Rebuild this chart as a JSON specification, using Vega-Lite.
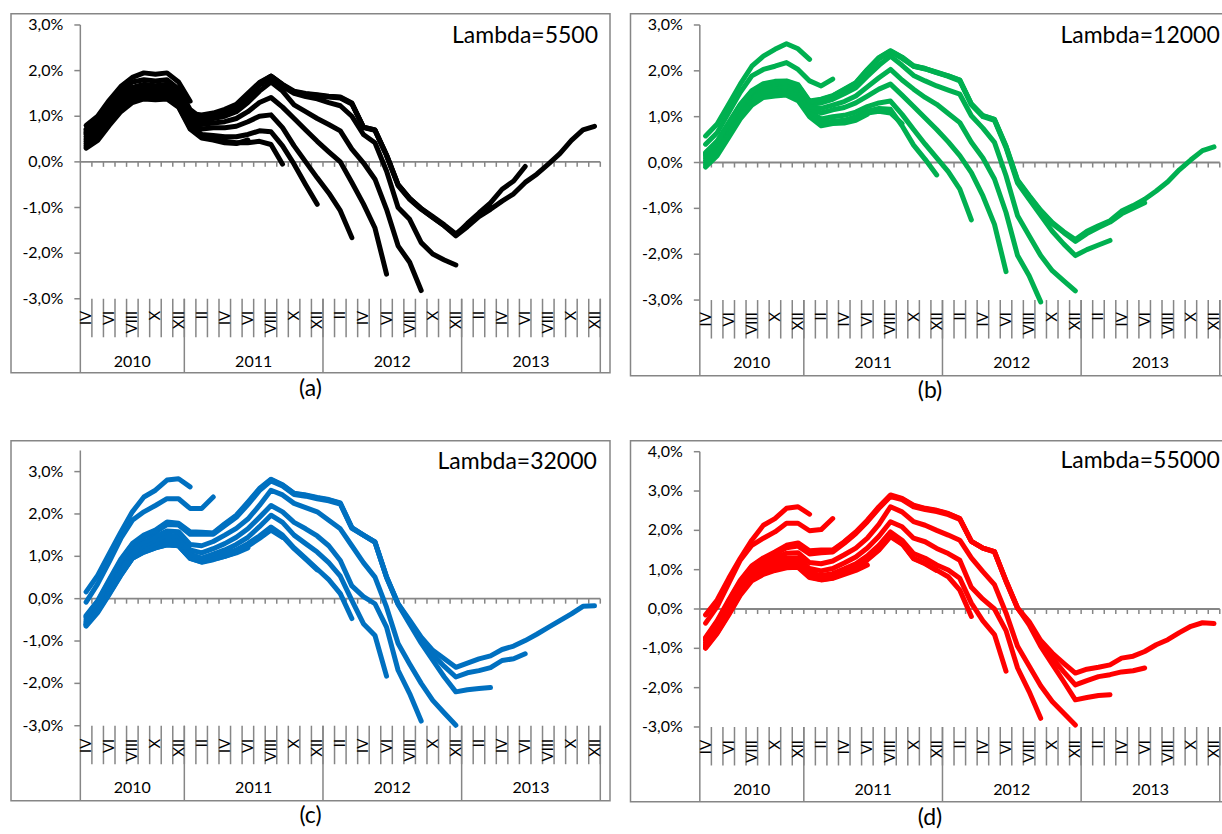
{
  "$schema": "https://vega.github.io/schema/vega-lite/v6.json",
  "padding": {"left": 10, "top": 12.7, "right": 0, "bottom": 0},
  "config": {
    "view": {"stroke": "#868686", "strokeWidth": 1.5},
    "font": "Lato",
    "text": {"font": "Lato", "color": "#000000"}
  },
  "datasets": {
    "yt": [
      {"t":-3,"lab":"-3,0%"},{"t":-2,"lab":"-2,0%"},{"t":-1,"lab":"-1,0%"},{"t":0,"lab":"0,0%"},{"t":1,"lab":"1,0%"},{"t":2,"lab":"2,0%"},{"t":3,"lab":"3,0%"},{"t":4,"lab":"4,0%"}
    ],
    "months": [
      {"m":0,"r":"IV"},{"m":1,"r":"V"},{"m":2,"r":"VI"},{"m":3,"r":"VII"},{"m":4,"r":"VIII"},{"m":5,"r":"IX"},{"m":6,"r":"X"},{"m":7,"r":"XI"},{"m":8,"r":"XII"},
      {"m":9,"r":"I"},{"m":10,"r":"II"},{"m":11,"r":"III"},{"m":12,"r":"IV"},{"m":13,"r":"V"},{"m":14,"r":"VI"},{"m":15,"r":"VII"},{"m":16,"r":"VIII"},{"m":17,"r":"IX"},{"m":18,"r":"X"},{"m":19,"r":"XI"},{"m":20,"r":"XII"},
      {"m":21,"r":"I"},{"m":22,"r":"II"},{"m":23,"r":"III"},{"m":24,"r":"IV"},{"m":25,"r":"V"},{"m":26,"r":"VI"},{"m":27,"r":"VII"},{"m":28,"r":"VIII"},{"m":29,"r":"IX"},{"m":30,"r":"X"},{"m":31,"r":"XI"},{"m":32,"r":"XII"},
      {"m":33,"r":"I"},{"m":34,"r":"II"},{"m":35,"r":"III"},{"m":36,"r":"IV"},{"m":37,"r":"V"},{"m":38,"r":"VI"},{"m":39,"r":"VII"},{"m":40,"r":"VIII"},{"m":41,"r":"IX"},{"m":42,"r":"X"},{"m":43,"r":"XI"},{"m":44,"r":"XII"}
    ],
    "years": [
      {"yr":"2010","s":0,"e":8},{"yr":"2011","s":9,"e":20},{"yr":"2012","s":21,"e":32},{"yr":"2013","s":33,"e":44}
    ],
    "A": [
      {"v":9,"m":0,"g":0.8},{"v":9,"m":1,"g":1},{"v":9,"m":2,"g":1.35},{"v":9,"m":3,"g":1.65},{"v":9,"m":4,"g":1.85},{"v":9,"m":5,"g":1.95},{"v":9,"m":6,"g":1.92},{"v":9,"m":7,"g":1.95},{"v":9,"m":8,"g":1.75},{"v":9,"m":9,"g":1.33},
      {"v":11,"m":0,"g":0.72},{"v":11,"m":1,"g":0.92},{"v":11,"m":2,"g":1.25},{"v":11,"m":3,"g":1.55},{"v":11,"m":4,"g":1.75},{"v":11,"m":5,"g":1.8},{"v":11,"m":6,"g":1.77},{"v":11,"m":7,"g":1.8},{"v":11,"m":8,"g":1.6},{"v":11,"m":9,"g":1.15},{"v":11,"m":10,"g":0.95},{"v":11,"m":11,"g":1},
      {"v":14,"m":0,"g":0.3},{"v":14,"m":1,"g":0.47},{"v":14,"m":2,"g":0.8},{"v":14,"m":3,"g":1.1},{"v":14,"m":4,"g":1.3},{"v":14,"m":5,"g":1.38},{"v":14,"m":6,"g":1.36},{"v":14,"m":7,"g":1.38},{"v":14,"m":8,"g":1.2},{"v":14,"m":9,"g":0.72},{"v":14,"m":10,"g":0.52},{"v":14,"m":11,"g":0.48},{"v":14,"m":12,"g":0.42},{"v":14,"m":13,"g":0.4},{"v":14,"m":14,"g":0.48},
      {"v":17,"m":0,"g":0.35},{"v":17,"m":1,"g":0.52},{"v":17,"m":2,"g":0.84},{"v":17,"m":3,"g":1.13},{"v":17,"m":4,"g":1.33},{"v":17,"m":5,"g":1.41},{"v":17,"m":6,"g":1.38},{"v":17,"m":7,"g":1.41},{"v":17,"m":8,"g":1.22},{"v":17,"m":9,"g":0.75},{"v":17,"m":10,"g":0.55},{"v":17,"m":11,"g":0.5},{"v":17,"m":12,"g":0.45},{"v":17,"m":13,"g":0.42},{"v":17,"m":14,"g":0.42},{"v":17,"m":15,"g":0.45},{"v":17,"m":16,"g":0.38},{"v":17,"m":17,"g":-0.05},
      {"v":20,"m":0,"g":0.4},{"v":20,"m":1,"g":0.57},{"v":20,"m":2,"g":0.88},{"v":20,"m":3,"g":1.18},{"v":20,"m":4,"g":1.38},{"v":20,"m":5,"g":1.46},{"v":20,"m":6,"g":1.43},{"v":20,"m":7,"g":1.46},{"v":20,"m":8,"g":1.27},{"v":20,"m":9,"g":0.8},{"v":20,"m":10,"g":0.6},{"v":20,"m":11,"g":0.58},{"v":20,"m":12,"g":0.55},{"v":20,"m":13,"g":0.55},{"v":20,"m":14,"g":0.6},{"v":20,"m":15,"g":0.68},{"v":20,"m":16,"g":0.66},{"v":20,"m":17,"g":0.35},{"v":20,"m":18,"g":-0.05},{"v":20,"m":19,"g":-0.5},{"v":20,"m":20,"g":-0.93},
      {"v":23,"m":0,"g":0.45},{"v":23,"m":1,"g":0.62},{"v":23,"m":2,"g":0.93},{"v":23,"m":3,"g":1.22},{"v":23,"m":4,"g":1.42},{"v":23,"m":5,"g":1.5},{"v":23,"m":6,"g":1.48},{"v":23,"m":7,"g":1.5},{"v":23,"m":8,"g":1.3},{"v":23,"m":9,"g":0.85},{"v":23,"m":10,"g":0.72},{"v":23,"m":11,"g":0.75},{"v":23,"m":12,"g":0.75},{"v":23,"m":13,"g":0.78},{"v":23,"m":14,"g":0.88},{"v":23,"m":15,"g":1},{"v":23,"m":16,"g":1.03},{"v":23,"m":17,"g":0.75},{"v":23,"m":18,"g":0.35},{"v":23,"m":19,"g":0},{"v":23,"m":20,"g":-0.35},{"v":23,"m":21,"g":-0.68},{"v":23,"m":22,"g":-1.07},{"v":23,"m":23,"g":-1.66},
      {"v":26,"m":0,"g":0.5},{"v":26,"m":1,"g":0.67},{"v":26,"m":2,"g":0.98},{"v":26,"m":3,"g":1.27},{"v":26,"m":4,"g":1.47},{"v":26,"m":5,"g":1.55},{"v":26,"m":6,"g":1.53},{"v":26,"m":7,"g":1.55},{"v":26,"m":8,"g":1.36},{"v":26,"m":9,"g":0.9},{"v":26,"m":10,"g":0.82},{"v":26,"m":11,"g":0.85},{"v":26,"m":12,"g":0.88},{"v":26,"m":13,"g":0.95},{"v":26,"m":14,"g":1.1},{"v":26,"m":15,"g":1.3},{"v":26,"m":16,"g":1.41},{"v":26,"m":17,"g":1.2},{"v":26,"m":18,"g":0.95},{"v":26,"m":19,"g":0.7},{"v":26,"m":20,"g":0.45},{"v":26,"m":21,"g":0.22},{"v":26,"m":22,"g":0},{"v":26,"m":23,"g":-0.45},{"v":26,"m":24,"g":-0.92},{"v":26,"m":25,"g":-1.45},{"v":26,"m":26,"g":-2.46},
      {"v":29,"m":0,"g":0.55},{"v":29,"m":1,"g":0.72},{"v":29,"m":2,"g":1.03},{"v":29,"m":3,"g":1.32},{"v":29,"m":4,"g":1.52},{"v":29,"m":5,"g":1.6},{"v":29,"m":6,"g":1.58},{"v":29,"m":7,"g":1.6},{"v":29,"m":8,"g":1.42},{"v":29,"m":9,"g":0.95},{"v":29,"m":10,"g":0.9},{"v":29,"m":11,"g":0.95},{"v":29,"m":12,"g":1},{"v":29,"m":13,"g":1.1},{"v":29,"m":14,"g":1.3},{"v":29,"m":15,"g":1.55},{"v":29,"m":16,"g":1.75},{"v":29,"m":17,"g":1.55},{"v":29,"m":18,"g":1.25},{"v":29,"m":19,"g":1.1},{"v":29,"m":20,"g":0.95},{"v":29,"m":21,"g":0.82},{"v":29,"m":22,"g":0.68},{"v":29,"m":23,"g":0.28},{"v":29,"m":24,"g":-0.02},{"v":29,"m":25,"g":-0.38},{"v":29,"m":26,"g":-1.04},{"v":29,"m":27,"g":-1.84},{"v":29,"m":28,"g":-2.2},{"v":29,"m":29,"g":-2.82},
      {"v":32,"m":0,"g":0.6},{"v":32,"m":1,"g":0.77},{"v":32,"m":2,"g":1.08},{"v":32,"m":3,"g":1.37},{"v":32,"m":4,"g":1.57},{"v":32,"m":5,"g":1.65},{"v":32,"m":6,"g":1.63},{"v":32,"m":7,"g":1.65},{"v":32,"m":8,"g":1.47},{"v":32,"m":9,"g":1},{"v":32,"m":10,"g":0.95},{"v":32,"m":11,"g":1},{"v":32,"m":12,"g":1.08},{"v":32,"m":13,"g":1.2},{"v":32,"m":14,"g":1.42},{"v":32,"m":15,"g":1.68},{"v":32,"m":16,"g":1.85},{"v":32,"m":17,"g":1.65},{"v":32,"m":18,"g":1.5},{"v":32,"m":19,"g":1.43},{"v":32,"m":20,"g":1.38},{"v":32,"m":21,"g":1.3},{"v":32,"m":22,"g":1.23},{"v":32,"m":23,"g":1},{"v":32,"m":24,"g":0.6},{"v":32,"m":25,"g":0.42},{"v":32,"m":26,"g":-0.2},{"v":32,"m":27,"g":-1},{"v":32,"m":28,"g":-1.26},{"v":32,"m":29,"g":-1.77},{"v":32,"m":30,"g":-2.02},{"v":32,"m":31,"g":-2.15},{"v":32,"m":32,"g":-2.26},
      {"v":35,"m":0,"g":0.63},{"v":35,"m":1,"g":0.8},{"v":35,"m":2,"g":1.1},{"v":35,"m":3,"g":1.4},{"v":35,"m":4,"g":1.6},{"v":35,"m":5,"g":1.67},{"v":35,"m":6,"g":1.65},{"v":35,"m":7,"g":1.67},{"v":35,"m":8,"g":1.48},{"v":35,"m":9,"g":1.02},{"v":35,"m":10,"g":0.98},{"v":35,"m":11,"g":1.03},{"v":35,"m":12,"g":1.1},{"v":35,"m":13,"g":1.22},{"v":35,"m":14,"g":1.45},{"v":35,"m":15,"g":1.7},{"v":35,"m":16,"g":1.87},{"v":35,"m":17,"g":1.68},{"v":35,"m":18,"g":1.52},{"v":35,"m":19,"g":1.48},{"v":35,"m":20,"g":1.45},{"v":35,"m":21,"g":1.42},{"v":35,"m":22,"g":1.4},{"v":35,"m":23,"g":1.27},{"v":35,"m":24,"g":0.76},{"v":35,"m":25,"g":0.7},{"v":35,"m":26,"g":0.15},{"v":35,"m":27,"g":-0.5},{"v":35,"m":28,"g":-0.8},{"v":35,"m":29,"g":-1.02},{"v":35,"m":30,"g":-1.2},{"v":35,"m":31,"g":-1.38},{"v":35,"m":32,"g":-1.58},{"v":35,"m":33,"g":-1.38},{"v":35,"m":34,"g":-1.18},{"v":35,"m":35,"g":-1},
      {"v":38,"m":0,"g":0.66},{"v":38,"m":1,"g":0.83},{"v":38,"m":2,"g":1.12},{"v":38,"m":3,"g":1.42},{"v":38,"m":4,"g":1.62},{"v":38,"m":5,"g":1.68},{"v":38,"m":6,"g":1.66},{"v":38,"m":7,"g":1.68},{"v":38,"m":8,"g":1.5},{"v":38,"m":9,"g":1.04},{"v":38,"m":10,"g":1},{"v":38,"m":11,"g":1.05},{"v":38,"m":12,"g":1.12},{"v":38,"m":13,"g":1.24},{"v":38,"m":14,"g":1.47},{"v":38,"m":15,"g":1.72},{"v":38,"m":16,"g":1.88},{"v":38,"m":17,"g":1.69},{"v":38,"m":18,"g":1.53},{"v":38,"m":19,"g":1.49},{"v":38,"m":20,"g":1.46},{"v":38,"m":21,"g":1.43},{"v":38,"m":22,"g":1.41},{"v":38,"m":23,"g":1.28},{"v":38,"m":24,"g":0.75},{"v":38,"m":25,"g":0.69},{"v":38,"m":26,"g":0.14},{"v":38,"m":27,"g":-0.52},{"v":38,"m":28,"g":-0.82},{"v":38,"m":29,"g":-1.04},{"v":38,"m":30,"g":-1.22},{"v":38,"m":31,"g":-1.4},{"v":38,"m":32,"g":-1.6},{"v":38,"m":33,"g":-1.35},{"v":38,"m":34,"g":-1.12},{"v":38,"m":35,"g":-0.9},{"v":38,"m":36,"g":-0.6},{"v":38,"m":37,"g":-0.42},{"v":38,"m":38,"g":-0.1},
      {"v":44,"m":0,"g":0.7},{"v":44,"m":1,"g":0.85},{"v":44,"m":2,"g":1.15},{"v":44,"m":3,"g":1.45},{"v":44,"m":4,"g":1.63},{"v":44,"m":5,"g":1.7},{"v":44,"m":6,"g":1.67},{"v":44,"m":7,"g":1.7},{"v":44,"m":8,"g":1.52},{"v":44,"m":9,"g":1.06},{"v":44,"m":10,"g":1.03},{"v":44,"m":11,"g":1.07},{"v":44,"m":12,"g":1.15},{"v":44,"m":13,"g":1.26},{"v":44,"m":14,"g":1.5},{"v":44,"m":15,"g":1.74},{"v":44,"m":16,"g":1.88},{"v":44,"m":17,"g":1.7},{"v":44,"m":18,"g":1.55},{"v":44,"m":19,"g":1.5},{"v":44,"m":20,"g":1.47},{"v":44,"m":21,"g":1.44},{"v":44,"m":22,"g":1.42},{"v":44,"m":23,"g":1.29},{"v":44,"m":24,"g":0.76},{"v":44,"m":25,"g":0.7},{"v":44,"m":26,"g":0.15},{"v":44,"m":27,"g":-0.5},{"v":44,"m":28,"g":-0.8},{"v":44,"m":29,"g":-1.03},{"v":44,"m":30,"g":-1.22},{"v":44,"m":31,"g":-1.4},{"v":44,"m":32,"g":-1.62},{"v":44,"m":33,"g":-1.42},{"v":44,"m":34,"g":-1.2},{"v":44,"m":35,"g":-1.04},{"v":44,"m":36,"g":-0.86},{"v":44,"m":37,"g":-0.7},{"v":44,"m":38,"g":-0.45},{"v":44,"m":39,"g":-0.27},{"v":44,"m":40,"g":-0.05},{"v":44,"m":41,"g":0.18},{"v":44,"m":42,"g":0.47},{"v":44,"m":43,"g":0.7},{"v":44,"m":44,"g":0.78}
    ],
    "B": [
      {"v":9,"m":0,"g":0.58},{"v":9,"m":1,"g":0.84},{"v":9,"m":2,"g":1.27},{"v":9,"m":3,"g":1.71},{"v":9,"m":4,"g":2.1},{"v":9,"m":5,"g":2.32},{"v":9,"m":6,"g":2.47},{"v":9,"m":7,"g":2.59},{"v":9,"m":8,"g":2.48},{"v":9,"m":9,"g":2.25},
      {"v":11,"m":0,"g":0.4},{"v":11,"m":1,"g":0.65},{"v":11,"m":2,"g":1.09},{"v":11,"m":3,"g":1.53},{"v":11,"m":4,"g":1.89},{"v":11,"m":5,"g":2.03},{"v":11,"m":6,"g":2.1},{"v":11,"m":7,"g":2.18},{"v":11,"m":8,"g":2.03},{"v":11,"m":9,"g":1.78},{"v":11,"m":10,"g":1.67},{"v":11,"m":11,"g":1.82},
      {"v":14,"m":0,"g":-0.1},{"v":14,"m":1,"g":0.15},{"v":14,"m":2,"g":0.55},{"v":14,"m":3,"g":0.95},{"v":14,"m":4,"g":1.25},{"v":14,"m":5,"g":1.42},{"v":14,"m":6,"g":1.45},{"v":14,"m":7,"g":1.47},{"v":14,"m":8,"g":1.35},{"v":14,"m":9,"g":1},{"v":14,"m":10,"g":0.8},{"v":14,"m":11,"g":0.85},{"v":14,"m":12,"g":0.86},{"v":14,"m":13,"g":0.92},{"v":14,"m":14,"g":1.05},
      {"v":17,"m":0,"g":-0.05},{"v":17,"m":1,"g":0.2},{"v":17,"m":2,"g":0.6},{"v":17,"m":3,"g":1},{"v":17,"m":4,"g":1.3},{"v":17,"m":5,"g":1.47},{"v":17,"m":6,"g":1.5},{"v":17,"m":7,"g":1.52},{"v":17,"m":8,"g":1.4},{"v":17,"m":9,"g":1.03},{"v":17,"m":10,"g":0.82},{"v":17,"m":11,"g":0.87},{"v":17,"m":12,"g":0.88},{"v":17,"m":13,"g":0.95},{"v":17,"m":14,"g":1.08},{"v":17,"m":15,"g":1.12},{"v":17,"m":16,"g":1.08},{"v":17,"m":17,"g":0.85},
      {"v":20,"m":0,"g":0},{"v":20,"m":1,"g":0.25},{"v":20,"m":2,"g":0.65},{"v":20,"m":3,"g":1.05},{"v":20,"m":4,"g":1.35},{"v":20,"m":5,"g":1.52},{"v":20,"m":6,"g":1.55},{"v":20,"m":7,"g":1.57},{"v":20,"m":8,"g":1.45},{"v":20,"m":9,"g":1.08},{"v":20,"m":10,"g":0.86},{"v":20,"m":11,"g":0.9},{"v":20,"m":12,"g":0.92},{"v":20,"m":13,"g":1},{"v":20,"m":14,"g":1.12},{"v":20,"m":15,"g":1.18},{"v":20,"m":16,"g":1.16},{"v":20,"m":17,"g":0.8},{"v":20,"m":18,"g":0.38},{"v":20,"m":19,"g":0.07},{"v":20,"m":20,"g":-0.27},
      {"v":23,"m":0,"g":0.05},{"v":23,"m":1,"g":0.3},{"v":23,"m":2,"g":0.7},{"v":23,"m":3,"g":1.1},{"v":23,"m":4,"g":1.4},{"v":23,"m":5,"g":1.56},{"v":23,"m":6,"g":1.59},{"v":23,"m":7,"g":1.61},{"v":23,"m":8,"g":1.5},{"v":23,"m":9,"g":1.12},{"v":23,"m":10,"g":0.95},{"v":23,"m":11,"g":1},{"v":23,"m":12,"g":1.03},{"v":23,"m":13,"g":1.1},{"v":23,"m":14,"g":1.22},{"v":23,"m":15,"g":1.3},{"v":23,"m":16,"g":1.34},{"v":23,"m":17,"g":1.05},{"v":23,"m":18,"g":0.72},{"v":23,"m":19,"g":0.4},{"v":23,"m":20,"g":0.1},{"v":23,"m":21,"g":-0.2},{"v":23,"m":22,"g":-0.58},{"v":23,"m":23,"g":-1.25},
      {"v":26,"m":0,"g":0.1},{"v":26,"m":1,"g":0.35},{"v":26,"m":2,"g":0.75},{"v":26,"m":3,"g":1.15},{"v":26,"m":4,"g":1.45},{"v":26,"m":5,"g":1.6},{"v":26,"m":6,"g":1.63},{"v":26,"m":7,"g":1.65},{"v":26,"m":8,"g":1.55},{"v":26,"m":9,"g":1.18},{"v":26,"m":10,"g":1.08},{"v":26,"m":11,"g":1.15},{"v":26,"m":12,"g":1.2},{"v":26,"m":13,"g":1.3},{"v":26,"m":14,"g":1.45},{"v":26,"m":15,"g":1.6},{"v":26,"m":16,"g":1.71},{"v":26,"m":17,"g":1.47},{"v":26,"m":18,"g":1.22},{"v":26,"m":19,"g":0.97},{"v":26,"m":20,"g":0.72},{"v":26,"m":21,"g":0.45},{"v":26,"m":22,"g":0.15},{"v":26,"m":23,"g":-0.22},{"v":26,"m":24,"g":-0.73},{"v":26,"m":25,"g":-1.35},{"v":26,"m":26,"g":-2.38},
      {"v":29,"m":0,"g":0.14},{"v":29,"m":1,"g":0.38},{"v":29,"m":2,"g":0.78},{"v":29,"m":3,"g":1.18},{"v":29,"m":4,"g":1.48},{"v":29,"m":5,"g":1.63},{"v":29,"m":6,"g":1.66},{"v":29,"m":7,"g":1.68},{"v":29,"m":8,"g":1.58},{"v":29,"m":9,"g":1.22},{"v":29,"m":10,"g":1.18},{"v":29,"m":11,"g":1.25},{"v":29,"m":12,"g":1.33},{"v":29,"m":13,"g":1.45},{"v":29,"m":14,"g":1.65},{"v":29,"m":15,"g":1.85},{"v":29,"m":16,"g":2.03},{"v":29,"m":17,"g":1.8},{"v":29,"m":18,"g":1.6},{"v":29,"m":19,"g":1.42},{"v":29,"m":20,"g":1.27},{"v":29,"m":21,"g":1.07},{"v":29,"m":22,"g":0.87},{"v":29,"m":23,"g":0.44},{"v":29,"m":24,"g":0.1},{"v":29,"m":25,"g":-0.36},{"v":29,"m":26,"g":-1.09},{"v":29,"m":27,"g":-2.03},{"v":29,"m":28,"g":-2.47},{"v":29,"m":29,"g":-3.04},
      {"v":32,"m":0,"g":0.17},{"v":32,"m":1,"g":0.41},{"v":32,"m":2,"g":0.81},{"v":32,"m":3,"g":1.21},{"v":32,"m":4,"g":1.51},{"v":32,"m":5,"g":1.66},{"v":32,"m":6,"g":1.7},{"v":32,"m":7,"g":1.72},{"v":32,"m":8,"g":1.62},{"v":32,"m":9,"g":1.27},{"v":32,"m":10,"g":1.3},{"v":32,"m":11,"g":1.38},{"v":32,"m":12,"g":1.5},{"v":32,"m":13,"g":1.63},{"v":32,"m":14,"g":1.88},{"v":32,"m":15,"g":2.12},{"v":32,"m":16,"g":2.32},{"v":32,"m":17,"g":2.12},{"v":32,"m":18,"g":1.9},{"v":32,"m":19,"g":1.78},{"v":32,"m":20,"g":1.67},{"v":32,"m":21,"g":1.58},{"v":32,"m":22,"g":1.49},{"v":32,"m":23,"g":1.02},{"v":32,"m":24,"g":0.75},{"v":32,"m":25,"g":0.44},{"v":32,"m":26,"g":-0.29},{"v":32,"m":27,"g":-1.16},{"v":32,"m":28,"g":-1.6},{"v":32,"m":29,"g":-2.03},{"v":32,"m":30,"g":-2.36},{"v":32,"m":31,"g":-2.58},{"v":32,"m":32,"g":-2.8},
      {"v":35,"m":0,"g":0.19},{"v":35,"m":1,"g":0.43},{"v":35,"m":2,"g":0.83},{"v":35,"m":3,"g":1.23},{"v":35,"m":4,"g":1.53},{"v":35,"m":5,"g":1.68},{"v":35,"m":6,"g":1.72},{"v":35,"m":7,"g":1.74},{"v":35,"m":8,"g":1.65},{"v":35,"m":9,"g":1.3},{"v":35,"m":10,"g":1.35},{"v":35,"m":11,"g":1.43},{"v":35,"m":12,"g":1.57},{"v":35,"m":13,"g":1.72},{"v":35,"m":14,"g":2},{"v":35,"m":15,"g":2.26},{"v":35,"m":16,"g":2.42},{"v":35,"m":17,"g":2.27},{"v":35,"m":18,"g":2.1},{"v":35,"m":19,"g":2.04},{"v":35,"m":20,"g":1.96},{"v":35,"m":21,"g":1.88},{"v":35,"m":22,"g":1.78},{"v":35,"m":23,"g":1.26},{"v":35,"m":24,"g":1},{"v":35,"m":25,"g":0.92},{"v":35,"m":26,"g":0.32},{"v":35,"m":27,"g":-0.45},{"v":35,"m":28,"g":-0.8},{"v":35,"m":29,"g":-1.15},{"v":35,"m":30,"g":-1.5},{"v":35,"m":31,"g":-1.78},{"v":35,"m":32,"g":-2.03},{"v":35,"m":33,"g":-1.9},{"v":35,"m":34,"g":-1.8},{"v":35,"m":35,"g":-1.7},
      {"v":38,"m":0,"g":0.2},{"v":38,"m":1,"g":0.45},{"v":38,"m":2,"g":0.85},{"v":38,"m":3,"g":1.25},{"v":38,"m":4,"g":1.55},{"v":38,"m":5,"g":1.7},{"v":38,"m":6,"g":1.75},{"v":38,"m":7,"g":1.77},{"v":38,"m":8,"g":1.68},{"v":38,"m":9,"g":1.32},{"v":38,"m":10,"g":1.37},{"v":38,"m":11,"g":1.45},{"v":38,"m":12,"g":1.59},{"v":38,"m":13,"g":1.73},{"v":38,"m":14,"g":2.02},{"v":38,"m":15,"g":2.28},{"v":38,"m":16,"g":2.43},{"v":38,"m":17,"g":2.29},{"v":38,"m":18,"g":2.1},{"v":38,"m":19,"g":2.05},{"v":38,"m":20,"g":1.96},{"v":38,"m":21,"g":1.89},{"v":38,"m":22,"g":1.8},{"v":38,"m":23,"g":1.27},{"v":38,"m":24,"g":1.02},{"v":38,"m":25,"g":0.94},{"v":38,"m":26,"g":0.35},{"v":38,"m":27,"g":-0.4},{"v":38,"m":28,"g":-0.74},{"v":38,"m":29,"g":-1.06},{"v":38,"m":30,"g":-1.33},{"v":38,"m":31,"g":-1.53},{"v":38,"m":32,"g":-1.72},{"v":38,"m":33,"g":-1.55},{"v":38,"m":34,"g":-1.42},{"v":38,"m":35,"g":-1.3},{"v":38,"m":36,"g":-1.12},{"v":38,"m":37,"g":-1},{"v":38,"m":38,"g":-0.88},
      {"v":44,"m":0,"g":0.22},{"v":44,"m":1,"g":0.47},{"v":44,"m":2,"g":0.87},{"v":44,"m":3,"g":1.27},{"v":44,"m":4,"g":1.57},{"v":44,"m":5,"g":1.72},{"v":44,"m":6,"g":1.77},{"v":44,"m":7,"g":1.78},{"v":44,"m":8,"g":1.7},{"v":44,"m":9,"g":1.34},{"v":44,"m":10,"g":1.38},{"v":44,"m":11,"g":1.46},{"v":44,"m":12,"g":1.6},{"v":44,"m":13,"g":1.74},{"v":44,"m":14,"g":2.03},{"v":44,"m":15,"g":2.29},{"v":44,"m":16,"g":2.44},{"v":44,"m":17,"g":2.3},{"v":44,"m":18,"g":2.11},{"v":44,"m":19,"g":2.05},{"v":44,"m":20,"g":1.97},{"v":44,"m":21,"g":1.89},{"v":44,"m":22,"g":1.8},{"v":44,"m":23,"g":1.28},{"v":44,"m":24,"g":1.02},{"v":44,"m":25,"g":0.94},{"v":44,"m":26,"g":0.36},{"v":44,"m":27,"g":-0.38},{"v":44,"m":28,"g":-0.72},{"v":44,"m":29,"g":-1.04},{"v":44,"m":30,"g":-1.31},{"v":44,"m":31,"g":-1.51},{"v":44,"m":32,"g":-1.68},{"v":44,"m":33,"g":-1.5},{"v":44,"m":34,"g":-1.38},{"v":44,"m":35,"g":-1.27},{"v":44,"m":36,"g":-1.06},{"v":44,"m":37,"g":-0.94},{"v":44,"m":38,"g":-0.8},{"v":44,"m":39,"g":-0.62},{"v":44,"m":40,"g":-0.42},{"v":44,"m":41,"g":-0.16},{"v":44,"m":42,"g":0.06},{"v":44,"m":43,"g":0.26},{"v":44,"m":44,"g":0.34}
    ],
    "C": [
      {"v":9,"m":0,"g":0.16},{"v":9,"m":1,"g":0.55},{"v":9,"m":2,"g":1.06},{"v":9,"m":3,"g":1.57},{"v":9,"m":4,"g":2.05},{"v":9,"m":5,"g":2.4},{"v":9,"m":6,"g":2.56},{"v":9,"m":7,"g":2.8},{"v":9,"m":8,"g":2.83},{"v":9,"m":9,"g":2.64},
      {"v":11,"m":0,"g":-0.08},{"v":11,"m":1,"g":0.35},{"v":11,"m":2,"g":0.87},{"v":11,"m":3,"g":1.42},{"v":11,"m":4,"g":1.85},{"v":11,"m":5,"g":2.05},{"v":11,"m":6,"g":2.2},{"v":11,"m":7,"g":2.36},{"v":11,"m":8,"g":2.36},{"v":11,"m":9,"g":2.13},{"v":11,"m":10,"g":2.13},{"v":11,"m":11,"g":2.4},
      {"v":14,"m":0,"g":-0.55},{"v":14,"m":1,"g":-0.2},{"v":14,"m":2,"g":0.2},{"v":14,"m":3,"g":0.62},{"v":14,"m":4,"g":0.98},{"v":14,"m":5,"g":1.12},{"v":14,"m":6,"g":1.22},{"v":14,"m":7,"g":1.28},{"v":14,"m":8,"g":1.26},{"v":14,"m":9,"g":0.97},{"v":14,"m":10,"g":0.88},{"v":14,"m":11,"g":0.93},{"v":14,"m":12,"g":1},{"v":14,"m":13,"g":1.08},{"v":14,"m":14,"g":1.2},
      {"v":17,"m":0,"g":-0.6},{"v":17,"m":1,"g":-0.25},{"v":17,"m":2,"g":0.15},{"v":17,"m":3,"g":0.58},{"v":17,"m":4,"g":0.96},{"v":17,"m":5,"g":1.1},{"v":17,"m":6,"g":1.2},{"v":17,"m":7,"g":1.27},{"v":17,"m":8,"g":1.25},{"v":17,"m":9,"g":0.95},{"v":17,"m":10,"g":0.86},{"v":17,"m":11,"g":0.92},{"v":17,"m":12,"g":1},{"v":17,"m":13,"g":1.1},{"v":17,"m":14,"g":1.24},{"v":17,"m":15,"g":1.42},{"v":17,"m":16,"g":1.62},{"v":17,"m":17,"g":1.45},
      {"v":20,"m":0,"g":-0.62},{"v":20,"m":1,"g":-0.3},{"v":20,"m":2,"g":0.12},{"v":20,"m":3,"g":0.56},{"v":20,"m":4,"g":0.95},{"v":20,"m":5,"g":1.1},{"v":20,"m":6,"g":1.2},{"v":20,"m":7,"g":1.27},{"v":20,"m":8,"g":1.25},{"v":20,"m":9,"g":0.95},{"v":20,"m":10,"g":0.87},{"v":20,"m":11,"g":0.94},{"v":20,"m":12,"g":1.03},{"v":20,"m":13,"g":1.13},{"v":20,"m":14,"g":1.27},{"v":20,"m":15,"g":1.45},{"v":20,"m":16,"g":1.66},{"v":20,"m":17,"g":1.47},{"v":20,"m":18,"g":1.18},{"v":20,"m":19,"g":0.93},{"v":20,"m":20,"g":0.68},
      {"v":23,"m":0,"g":-0.65},{"v":23,"m":1,"g":-0.33},{"v":23,"m":2,"g":0.1},{"v":23,"m":3,"g":0.55},{"v":23,"m":4,"g":0.95},{"v":23,"m":5,"g":1.12},{"v":23,"m":6,"g":1.22},{"v":23,"m":7,"g":1.3},{"v":23,"m":8,"g":1.28},{"v":23,"m":9,"g":0.97},{"v":23,"m":10,"g":0.89},{"v":23,"m":11,"g":0.96},{"v":23,"m":12,"g":1.05},{"v":23,"m":13,"g":1.15},{"v":23,"m":14,"g":1.3},{"v":23,"m":15,"g":1.48},{"v":23,"m":16,"g":1.69},{"v":23,"m":17,"g":1.5},{"v":23,"m":18,"g":1.2},{"v":23,"m":19,"g":0.95},{"v":23,"m":20,"g":0.7},{"v":23,"m":21,"g":0.45},{"v":23,"m":22,"g":0.12},{"v":23,"m":23,"g":-0.47},
      {"v":26,"m":0,"g":-0.6},{"v":26,"m":1,"g":-0.28},{"v":26,"m":2,"g":0.15},{"v":26,"m":3,"g":0.6},{"v":26,"m":4,"g":1},{"v":26,"m":5,"g":1.18},{"v":26,"m":6,"g":1.3},{"v":26,"m":7,"g":1.4},{"v":26,"m":8,"g":1.38},{"v":26,"m":9,"g":1.05},{"v":26,"m":10,"g":0.96},{"v":26,"m":11,"g":1.05},{"v":26,"m":12,"g":1.15},{"v":26,"m":13,"g":1.28},{"v":26,"m":14,"g":1.45},{"v":26,"m":15,"g":1.7},{"v":26,"m":16,"g":1.97},{"v":26,"m":17,"g":1.8},{"v":26,"m":18,"g":1.5},{"v":26,"m":19,"g":1.3},{"v":26,"m":20,"g":1.1},{"v":26,"m":21,"g":0.85},{"v":26,"m":22,"g":0.53},{"v":26,"m":23,"g":-0.04},{"v":26,"m":24,"g":-0.59},{"v":26,"m":25,"g":-0.87},{"v":26,"m":26,"g":-1.83},
      {"v":29,"m":0,"g":-0.55},{"v":29,"m":1,"g":-0.22},{"v":29,"m":2,"g":0.22},{"v":29,"m":3,"g":0.67},{"v":29,"m":4,"g":1.08},{"v":29,"m":5,"g":1.26},{"v":29,"m":6,"g":1.38},{"v":29,"m":7,"g":1.5},{"v":29,"m":8,"g":1.48},{"v":29,"m":9,"g":1.15},{"v":29,"m":10,"g":1.08},{"v":29,"m":11,"g":1.18},{"v":29,"m":12,"g":1.3},{"v":29,"m":13,"g":1.45},{"v":29,"m":14,"g":1.65},{"v":29,"m":15,"g":1.92},{"v":29,"m":16,"g":2.2},{"v":29,"m":17,"g":2.05},{"v":29,"m":18,"g":1.8},{"v":29,"m":19,"g":1.65},{"v":29,"m":20,"g":1.48},{"v":29,"m":21,"g":1.25},{"v":29,"m":22,"g":0.9},{"v":29,"m":23,"g":0.3},{"v":29,"m":24,"g":0.05},{"v":29,"m":25,"g":-0.12},{"v":29,"m":26,"g":-0.67},{"v":29,"m":27,"g":-1.69},{"v":29,"m":28,"g":-2.24},{"v":29,"m":29,"g":-2.89},
      {"v":32,"m":0,"g":-0.5},{"v":32,"m":1,"g":-0.16},{"v":32,"m":2,"g":0.3},{"v":32,"m":3,"g":0.75},{"v":32,"m":4,"g":1.15},{"v":32,"m":5,"g":1.34},{"v":32,"m":6,"g":1.46},{"v":32,"m":7,"g":1.6},{"v":32,"m":8,"g":1.58},{"v":32,"m":9,"g":1.28},{"v":32,"m":10,"g":1.25},{"v":32,"m":11,"g":1.35},{"v":32,"m":12,"g":1.5},{"v":32,"m":13,"g":1.66},{"v":32,"m":14,"g":1.88},{"v":32,"m":15,"g":2.2},{"v":32,"m":16,"g":2.56},{"v":32,"m":17,"g":2.45},{"v":32,"m":18,"g":2.25},{"v":32,"m":19,"g":2.15},{"v":32,"m":20,"g":2.05},{"v":32,"m":21,"g":1.85},{"v":32,"m":22,"g":1.65},{"v":32,"m":23,"g":1.25},{"v":32,"m":24,"g":0.85},{"v":32,"m":25,"g":0.51},{"v":32,"m":26,"g":-0.2},{"v":32,"m":27,"g":-1.06},{"v":32,"m":28,"g":-1.54},{"v":32,"m":29,"g":-2},{"v":32,"m":30,"g":-2.4},{"v":32,"m":31,"g":-2.7},{"v":32,"m":32,"g":-2.99},
      {"v":35,"m":0,"g":-0.45},{"v":35,"m":1,"g":-0.1},{"v":35,"m":2,"g":0.38},{"v":35,"m":3,"g":0.85},{"v":35,"m":4,"g":1.25},{"v":35,"m":5,"g":1.45},{"v":35,"m":6,"g":1.57},{"v":35,"m":7,"g":1.75},{"v":35,"m":8,"g":1.74},{"v":35,"m":9,"g":1.52},{"v":35,"m":10,"g":1.52},{"v":35,"m":11,"g":1.52},{"v":35,"m":12,"g":1.72},{"v":35,"m":13,"g":1.92},{"v":35,"m":14,"g":2.22},{"v":35,"m":15,"g":2.55},{"v":35,"m":16,"g":2.78},{"v":35,"m":17,"g":2.66},{"v":35,"m":18,"g":2.46},{"v":35,"m":19,"g":2.42},{"v":35,"m":20,"g":2.36},{"v":35,"m":21,"g":2.31},{"v":35,"m":22,"g":2.23},{"v":35,"m":23,"g":1.66},{"v":35,"m":24,"g":1.5},{"v":35,"m":25,"g":1.33},{"v":35,"m":26,"g":0.5},{"v":35,"m":27,"g":-0.14},{"v":35,"m":28,"g":-0.6},{"v":35,"m":29,"g":-1.05},{"v":35,"m":30,"g":-1.45},{"v":35,"m":31,"g":-1.85},{"v":35,"m":32,"g":-2.2},{"v":35,"m":33,"g":-2.15},{"v":35,"m":34,"g":-2.12},{"v":35,"m":35,"g":-2.1},
      {"v":38,"m":0,"g":-0.42},{"v":38,"m":1,"g":-0.07},{"v":38,"m":2,"g":0.42},{"v":38,"m":3,"g":0.9},{"v":38,"m":4,"g":1.28},{"v":38,"m":5,"g":1.48},{"v":38,"m":6,"g":1.6},{"v":38,"m":7,"g":1.78},{"v":38,"m":8,"g":1.76},{"v":38,"m":9,"g":1.56},{"v":38,"m":10,"g":1.55},{"v":38,"m":11,"g":1.54},{"v":38,"m":12,"g":1.75},{"v":38,"m":13,"g":1.95},{"v":38,"m":14,"g":2.26},{"v":38,"m":15,"g":2.58},{"v":38,"m":16,"g":2.81},{"v":38,"m":17,"g":2.68},{"v":38,"m":18,"g":2.48},{"v":38,"m":19,"g":2.44},{"v":38,"m":20,"g":2.38},{"v":38,"m":21,"g":2.33},{"v":38,"m":22,"g":2.25},{"v":38,"m":23,"g":1.67},{"v":38,"m":24,"g":1.5},{"v":38,"m":25,"g":1.34},{"v":38,"m":26,"g":0.51},{"v":38,"m":27,"g":-0.12},{"v":38,"m":28,"g":-0.55},{"v":38,"m":29,"g":-0.98},{"v":38,"m":30,"g":-1.32},{"v":38,"m":31,"g":-1.6},{"v":38,"m":32,"g":-1.85},{"v":38,"m":33,"g":-1.75},{"v":38,"m":34,"g":-1.7},{"v":38,"m":35,"g":-1.63},{"v":38,"m":36,"g":-1.46},{"v":38,"m":37,"g":-1.42},{"v":38,"m":38,"g":-1.3},
      {"v":44,"m":0,"g":-0.4},{"v":44,"m":1,"g":-0.05},{"v":44,"m":2,"g":0.45},{"v":44,"m":3,"g":0.93},{"v":44,"m":4,"g":1.3},{"v":44,"m":5,"g":1.5},{"v":44,"m":6,"g":1.62},{"v":44,"m":7,"g":1.81},{"v":44,"m":8,"g":1.78},{"v":44,"m":9,"g":1.58},{"v":44,"m":10,"g":1.57},{"v":44,"m":11,"g":1.55},{"v":44,"m":12,"g":1.77},{"v":44,"m":13,"g":1.97},{"v":44,"m":14,"g":2.28},{"v":44,"m":15,"g":2.6},{"v":44,"m":16,"g":2.82},{"v":44,"m":17,"g":2.69},{"v":44,"m":18,"g":2.49},{"v":44,"m":19,"g":2.45},{"v":44,"m":20,"g":2.39},{"v":44,"m":21,"g":2.34},{"v":44,"m":22,"g":2.26},{"v":44,"m":23,"g":1.68},{"v":44,"m":24,"g":1.5},{"v":44,"m":25,"g":1.34},{"v":44,"m":26,"g":0.52},{"v":44,"m":27,"g":-0.12},{"v":44,"m":28,"g":-0.51},{"v":44,"m":29,"g":-0.91},{"v":44,"m":30,"g":-1.22},{"v":44,"m":31,"g":-1.42},{"v":44,"m":32,"g":-1.62},{"v":44,"m":33,"g":-1.52},{"v":44,"m":34,"g":-1.42},{"v":44,"m":35,"g":-1.35},{"v":44,"m":36,"g":-1.2},{"v":44,"m":37,"g":-1.12},{"v":44,"m":38,"g":-0.99},{"v":44,"m":39,"g":-0.84},{"v":44,"m":40,"g":-0.68},{"v":44,"m":41,"g":-0.52},{"v":44,"m":42,"g":-0.36},{"v":44,"m":43,"g":-0.18},{"v":44,"m":44,"g":-0.17}
    ],
    "D": [
      {"v":9,"m":0,"g":-0.15},{"v":9,"m":1,"g":0.23},{"v":9,"m":2,"g":0.78},{"v":9,"m":3,"g":1.29},{"v":9,"m":4,"g":1.75},{"v":9,"m":5,"g":2.13},{"v":9,"m":6,"g":2.3},{"v":9,"m":7,"g":2.56},{"v":9,"m":8,"g":2.6},{"v":9,"m":9,"g":2.41},
      {"v":11,"m":0,"g":-0.36},{"v":11,"m":1,"g":0.06},{"v":11,"m":2,"g":0.65},{"v":11,"m":3,"g":1.24},{"v":11,"m":4,"g":1.62},{"v":11,"m":5,"g":1.8},{"v":11,"m":6,"g":1.96},{"v":11,"m":7,"g":2.18},{"v":11,"m":8,"g":2.18},{"v":11,"m":9,"g":1.99},{"v":11,"m":10,"g":2.02},{"v":11,"m":11,"g":2.3},
      {"v":14,"m":0,"g":-1},{"v":14,"m":1,"g":-0.62},{"v":14,"m":2,"g":-0.15},{"v":14,"m":3,"g":0.35},{"v":14,"m":4,"g":0.72},{"v":14,"m":5,"g":0.88},{"v":14,"m":6,"g":0.98},{"v":14,"m":7,"g":1.05},{"v":14,"m":8,"g":1.06},{"v":14,"m":9,"g":0.8},{"v":14,"m":10,"g":0.74},{"v":14,"m":11,"g":0.78},{"v":14,"m":12,"g":0.88},{"v":14,"m":13,"g":0.98},{"v":14,"m":14,"g":1.12},
      {"v":17,"m":0,"g":-0.98},{"v":17,"m":1,"g":-0.6},{"v":17,"m":2,"g":-0.12},{"v":17,"m":3,"g":0.38},{"v":17,"m":4,"g":0.75},{"v":17,"m":5,"g":0.9},{"v":17,"m":6,"g":1},{"v":17,"m":7,"g":1.08},{"v":17,"m":8,"g":1.08},{"v":17,"m":9,"g":0.82},{"v":17,"m":10,"g":0.75},{"v":17,"m":11,"g":0.79},{"v":17,"m":12,"g":0.92},{"v":17,"m":13,"g":1.04},{"v":17,"m":14,"g":1.25},{"v":17,"m":15,"g":1.5},{"v":17,"m":16,"g":1.84},{"v":17,"m":17,"g":1.65},
      {"v":20,"m":0,"g":-0.96},{"v":20,"m":1,"g":-0.58},{"v":20,"m":2,"g":-0.1},{"v":20,"m":3,"g":0.4},{"v":20,"m":4,"g":0.77},{"v":20,"m":5,"g":0.92},{"v":20,"m":6,"g":1.02},{"v":20,"m":7,"g":1.1},{"v":20,"m":8,"g":1.1},{"v":20,"m":9,"g":0.84},{"v":20,"m":10,"g":0.76},{"v":20,"m":11,"g":0.8},{"v":20,"m":12,"g":0.93},{"v":20,"m":13,"g":1.06},{"v":20,"m":14,"g":1.27},{"v":20,"m":15,"g":1.52},{"v":20,"m":16,"g":1.86},{"v":20,"m":17,"g":1.66},{"v":20,"m":18,"g":1.28},{"v":20,"m":19,"g":1.15},{"v":20,"m":20,"g":0.98},
      {"v":23,"m":0,"g":-0.94},{"v":23,"m":1,"g":-0.56},{"v":23,"m":2,"g":-0.08},{"v":23,"m":3,"g":0.42},{"v":23,"m":4,"g":0.79},{"v":23,"m":5,"g":0.94},{"v":23,"m":6,"g":1.04},{"v":23,"m":7,"g":1.12},{"v":23,"m":8,"g":1.12},{"v":23,"m":9,"g":0.86},{"v":23,"m":10,"g":0.78},{"v":23,"m":11,"g":0.82},{"v":23,"m":12,"g":0.95},{"v":23,"m":13,"g":1.08},{"v":23,"m":14,"g":1.29},{"v":23,"m":15,"g":1.54},{"v":23,"m":16,"g":1.88},{"v":23,"m":17,"g":1.67},{"v":23,"m":18,"g":1.29},{"v":23,"m":19,"g":1.16},{"v":23,"m":20,"g":0.99},{"v":23,"m":21,"g":0.82},{"v":23,"m":22,"g":0.48},{"v":23,"m":23,"g":-0.19},
      {"v":26,"m":0,"g":-0.9},{"v":26,"m":1,"g":-0.52},{"v":26,"m":2,"g":-0.03},{"v":26,"m":3,"g":0.47},{"v":26,"m":4,"g":0.84},{"v":26,"m":5,"g":1},{"v":26,"m":6,"g":1.1},{"v":26,"m":7,"g":1.2},{"v":26,"m":8,"g":1.2},{"v":26,"m":9,"g":0.93},{"v":26,"m":10,"g":0.85},{"v":26,"m":11,"g":0.9},{"v":26,"m":12,"g":1.02},{"v":26,"m":13,"g":1.15},{"v":26,"m":14,"g":1.35},{"v":26,"m":15,"g":1.62},{"v":26,"m":16,"g":1.96},{"v":26,"m":17,"g":1.75},{"v":26,"m":18,"g":1.41},{"v":26,"m":19,"g":1.29},{"v":26,"m":20,"g":1.12},{"v":26,"m":21,"g":0.99},{"v":26,"m":22,"g":0.78},{"v":26,"m":23,"g":0.15},{"v":26,"m":24,"g":-0.3},{"v":26,"m":25,"g":-0.65},{"v":26,"m":26,"g":-1.58},
      {"v":29,"m":0,"g":-0.85},{"v":29,"m":1,"g":-0.46},{"v":29,"m":2,"g":0.03},{"v":29,"m":3,"g":0.53},{"v":29,"m":4,"g":0.9},{"v":29,"m":5,"g":1.07},{"v":29,"m":6,"g":1.18},{"v":29,"m":7,"g":1.3},{"v":29,"m":8,"g":1.3},{"v":29,"m":9,"g":1.03},{"v":29,"m":10,"g":0.97},{"v":29,"m":11,"g":1.03},{"v":29,"m":12,"g":1.17},{"v":29,"m":13,"g":1.32},{"v":29,"m":14,"g":1.55},{"v":29,"m":15,"g":1.85},{"v":29,"m":16,"g":2.22},{"v":29,"m":17,"g":2.09},{"v":29,"m":18,"g":1.8},{"v":29,"m":19,"g":1.71},{"v":29,"m":20,"g":1.54},{"v":29,"m":21,"g":1.41},{"v":29,"m":22,"g":1.24},{"v":29,"m":23,"g":0.55},{"v":29,"m":24,"g":0.25},{"v":29,"m":25,"g":0},{"v":29,"m":26,"g":-0.55},{"v":29,"m":27,"g":-1.5},{"v":29,"m":28,"g":-2.1},{"v":29,"m":29,"g":-2.78},
      {"v":32,"m":0,"g":-0.8},{"v":32,"m":1,"g":-0.4},{"v":32,"m":2,"g":0.1},{"v":32,"m":3,"g":0.6},{"v":32,"m":4,"g":0.98},{"v":32,"m":5,"g":1.16},{"v":32,"m":6,"g":1.28},{"v":32,"m":7,"g":1.42},{"v":32,"m":8,"g":1.43},{"v":32,"m":9,"g":1.18},{"v":32,"m":10,"g":1.15},{"v":32,"m":11,"g":1.22},{"v":32,"m":12,"g":1.38},{"v":32,"m":13,"g":1.55},{"v":32,"m":14,"g":1.8},{"v":32,"m":15,"g":2.15},{"v":32,"m":16,"g":2.6},{"v":32,"m":17,"g":2.47},{"v":32,"m":18,"g":2.22},{"v":32,"m":19,"g":2.13},{"v":32,"m":20,"g":2},{"v":32,"m":21,"g":1.88},{"v":32,"m":22,"g":1.75},{"v":32,"m":23,"g":1.3},{"v":32,"m":24,"g":0.95},{"v":32,"m":25,"g":0.62},{"v":32,"m":26,"g":-0.1},{"v":32,"m":27,"g":-0.95},{"v":32,"m":28,"g":-1.45},{"v":32,"m":29,"g":-1.95},{"v":32,"m":30,"g":-2.35},{"v":32,"m":31,"g":-2.65},{"v":32,"m":32,"g":-2.95},
      {"v":35,"m":0,"g":-0.76},{"v":35,"m":1,"g":-0.36},{"v":35,"m":2,"g":0.16},{"v":35,"m":3,"g":0.66},{"v":35,"m":4,"g":1.04},{"v":35,"m":5,"g":1.24},{"v":35,"m":6,"g":1.38},{"v":35,"m":7,"g":1.56},{"v":35,"m":8,"g":1.6},{"v":35,"m":9,"g":1.4},{"v":35,"m":10,"g":1.43},{"v":35,"m":11,"g":1.45},{"v":35,"m":12,"g":1.67},{"v":35,"m":13,"g":1.92},{"v":35,"m":14,"g":2.22},{"v":35,"m":15,"g":2.56},{"v":35,"m":16,"g":2.86},{"v":35,"m":17,"g":2.78},{"v":35,"m":18,"g":2.6},{"v":35,"m":19,"g":2.53},{"v":35,"m":20,"g":2.48},{"v":35,"m":21,"g":2.4},{"v":35,"m":22,"g":2.28},{"v":35,"m":23,"g":1.72},{"v":35,"m":24,"g":1.55},{"v":35,"m":25,"g":1.45},{"v":35,"m":26,"g":0.72},{"v":35,"m":27,"g":0.03},{"v":35,"m":28,"g":-0.4},{"v":35,"m":29,"g":-0.95},{"v":35,"m":30,"g":-1.4},{"v":35,"m":31,"g":-1.85},{"v":35,"m":32,"g":-2.31},{"v":35,"m":33,"g":-2.25},{"v":35,"m":34,"g":-2.2},{"v":35,"m":35,"g":-2.18},
      {"v":38,"m":0,"g":-0.74},{"v":38,"m":1,"g":-0.33},{"v":38,"m":2,"g":0.2},{"v":38,"m":3,"g":0.7},{"v":38,"m":4,"g":1.08},{"v":38,"m":5,"g":1.28},{"v":38,"m":6,"g":1.42},{"v":38,"m":7,"g":1.6},{"v":38,"m":8,"g":1.65},{"v":38,"m":9,"g":1.45},{"v":38,"m":10,"g":1.48},{"v":38,"m":11,"g":1.48},{"v":38,"m":12,"g":1.7},{"v":38,"m":13,"g":1.94},{"v":38,"m":14,"g":2.24},{"v":38,"m":15,"g":2.58},{"v":38,"m":16,"g":2.88},{"v":38,"m":17,"g":2.8},{"v":38,"m":18,"g":2.62},{"v":38,"m":19,"g":2.55},{"v":38,"m":20,"g":2.5},{"v":38,"m":21,"g":2.42},{"v":38,"m":22,"g":2.3},{"v":38,"m":23,"g":1.72},{"v":38,"m":24,"g":1.55},{"v":38,"m":25,"g":1.46},{"v":38,"m":26,"g":0.71},{"v":38,"m":27,"g":0.02},{"v":38,"m":28,"g":-0.35},{"v":38,"m":29,"g":-0.88},{"v":38,"m":30,"g":-1.25},{"v":38,"m":31,"g":-1.6},{"v":38,"m":32,"g":-1.93},{"v":38,"m":33,"g":-1.82},{"v":38,"m":34,"g":-1.72},{"v":38,"m":35,"g":-1.67},{"v":38,"m":36,"g":-1.6},{"v":38,"m":37,"g":-1.57},{"v":38,"m":38,"g":-1.5},
      {"v":44,"m":0,"g":-0.72},{"v":44,"m":1,"g":-0.3},{"v":44,"m":2,"g":0.23},{"v":44,"m":3,"g":0.73},{"v":44,"m":4,"g":1.1},{"v":44,"m":5,"g":1.3},{"v":44,"m":6,"g":1.45},{"v":44,"m":7,"g":1.62},{"v":44,"m":8,"g":1.68},{"v":44,"m":9,"g":1.48},{"v":44,"m":10,"g":1.5},{"v":44,"m":11,"g":1.5},{"v":44,"m":12,"g":1.71},{"v":44,"m":13,"g":1.96},{"v":44,"m":14,"g":2.26},{"v":44,"m":15,"g":2.6},{"v":44,"m":16,"g":2.9},{"v":44,"m":17,"g":2.81},{"v":44,"m":18,"g":2.64},{"v":44,"m":19,"g":2.56},{"v":44,"m":20,"g":2.51},{"v":44,"m":21,"g":2.43},{"v":44,"m":22,"g":2.3},{"v":44,"m":23,"g":1.72},{"v":44,"m":24,"g":1.55},{"v":44,"m":25,"g":1.46},{"v":44,"m":26,"g":0.7},{"v":44,"m":27,"g":0.02},{"v":44,"m":28,"g":-0.32},{"v":44,"m":29,"g":-0.8},{"v":44,"m":30,"g":-1.12},{"v":44,"m":31,"g":-1.38},{"v":44,"m":32,"g":-1.63},{"v":44,"m":33,"g":-1.53},{"v":44,"m":34,"g":-1.48},{"v":44,"m":35,"g":-1.42},{"v":44,"m":36,"g":-1.25},{"v":44,"m":37,"g":-1.2},{"v":44,"m":38,"g":-1.08},{"v":44,"m":39,"g":-0.91},{"v":44,"m":40,"g":-0.78},{"v":44,"m":41,"g":-0.6},{"v":44,"m":42,"g":-0.44},{"v":44,"m":43,"g":-0.35},{"v":44,"m":44,"g":-0.37}
    ]
  },
  "vconcat": [
    {
      "spacing": 18.5,
      "hconcat": [
        {
          "width": 599, "height": 359,
          "title": {"text": "(a)", "orient": "bottom", "offset": 4, "fontSize": 23, "font": "Lato", "fontWeight": "normal", "color": "#000000"},
          "layer": [
            {"data": {"values": [{}]}, "mark": {"type": "rule", "color": "#868686", "strokeWidth": 1.8},
             "encoding": {"x": {"datum": -0.5, "type": "quantitative", "scale": {"domain": [-6.5, 45.34], "nice": false, "zero": false}, "axis": null}, "x2": {"datum": 44.5},
                          "y": {"datum": 0, "type": "quantitative", "scale": {"domain": [-4.62, 3.247], "nice": false, "zero": false}, "axis": null}}},
            {"data": {"name": "months"}, "transform": [{"calculate": "datum.m + 0.5", "as": "b"}], "mark": {"type": "rule", "color": "#868686", "strokeWidth": 1.5, "y2Offset": 5},
             "encoding": {"x": {"field": "b", "type": "quantitative", "scale": {"domain": [-6.5, 45.34], "nice": false, "zero": false}, "axis": null},
                          "y": {"datum": 0, "type": "quantitative", "scale": {"domain": [-4.62, 3.247], "nice": false, "zero": false}, "axis": null}, "y2": {"datum": 0}}},
            {"data": {"name": "months"}, "transform": [{"calculate": "datum.m + 0.5", "as": "b"}], "mark": {"type": "rule", "color": "#868686", "strokeWidth": 1.5, "y2Offset": 38.5},
             "encoding": {"x": {"field": "b", "type": "quantitative", "scale": {"domain": [-6.5, 45.34], "nice": false, "zero": false}, "axis": null},
                          "y": {"datum": -3, "type": "quantitative", "scale": {"domain": [-4.62, 3.247], "nice": false, "zero": false}, "axis": null}, "y2": {"datum": -3}}},
            {"data": {"name": "years"}, "transform": [{"calculate": "datum.e + 0.5", "as": "b"}], "mark": {"type": "rule", "color": "#868686", "strokeWidth": 1.5, "y2Offset": 74},
             "encoding": {"x": {"field": "b", "type": "quantitative", "scale": {"domain": [-6.5, 45.34], "nice": false, "zero": false}, "axis": null},
                          "y": {"datum": -3, "type": "quantitative", "scale": {"domain": [-4.62, 3.247], "nice": false, "zero": false}, "axis": null}, "y2": {"datum": -3}}},
            {"data": {"values": [{}]}, "mark": {"type": "rule", "color": "#868686", "strokeWidth": 1.5, "y2Offset": 74},
             "encoding": {"x": {"datum": -0.5, "type": "quantitative", "scale": {"domain": [-6.5, 45.34], "nice": false, "zero": false}, "axis": null},
                          "y": {"datum": 3, "type": "quantitative", "scale": {"domain": [-4.62, 3.247], "nice": false, "zero": false}, "axis": null}, "y2": {"datum": -3}}},
            {"data": {"name": "yt"}, "transform": [{"filter": "datum.t <= 3"}], "mark": {"type": "rule", "color": "#868686", "strokeWidth": 1.5, "x2Offset": -6},
             "encoding": {"x": {"datum": -0.5, "type": "quantitative", "scale": {"domain": [-6.5, 45.34], "nice": false, "zero": false}, "axis": null}, "x2": {"datum": -0.5},
                          "y": {"field": "t", "type": "quantitative", "scale": {"domain": [-4.62, 3.247], "nice": false, "zero": false}, "axis": null}}},
            {"data": {"name": "yt"}, "transform": [{"filter": "datum.t <= 3"}], "mark": {"type": "text", "align": "right", "baseline": "middle", "fontSize": 16, "xOffset": -17},
             "encoding": {"x": {"datum": -0.5, "type": "quantitative", "scale": {"domain": [-6.5, 45.34], "nice": false, "zero": false}, "axis": null},
                          "y": {"field": "t", "type": "quantitative", "scale": {"domain": [-4.62, 3.247], "nice": false, "zero": false}, "axis": null}, "text": {"field": "lab"}}},
            {"data": {"name": "months"}, "transform": [{"filter": "datum.m % 2 == 0"}], "mark": {"type": "text", "angle": 270, "align": "right", "baseline": "middle", "fontSize": 15, "yOffset": 12},
             "encoding": {"x": {"field": "m", "type": "quantitative", "scale": {"domain": [-6.5, 45.34], "nice": false, "zero": false}, "axis": null},
                          "y": {"datum": -3, "type": "quantitative", "scale": {"domain": [-4.62, 3.247], "nice": false, "zero": false}, "axis": null}, "text": {"field": "r"}}},
            {"data": {"name": "years"}, "transform": [{"calculate": "(datum.s + datum.e) / 2", "as": "c"}], "mark": {"type": "text", "align": "center", "baseline": "middle", "fontSize": 16, "yOffset": 63},
             "encoding": {"x": {"field": "c", "type": "quantitative", "scale": {"domain": [-6.5, 45.34], "nice": false, "zero": false}, "axis": null},
                          "y": {"datum": -3, "type": "quantitative", "scale": {"domain": [-4.62, 3.247], "nice": false, "zero": false}, "axis": null}, "text": {"field": "yr"}}},
            {"data": {"values": [{"t": "Lambda=5500"}]}, "mark": {"type": "text", "align": "right", "baseline": "alphabetic", "fontSize": 23},
             "encoding": {"x": {"datum": 44.3, "type": "quantitative", "scale": {"domain": [-6.5, 45.34], "nice": false, "zero": false}, "axis": null},
                          "y": {"datum": 2.612, "type": "quantitative", "scale": {"domain": [-4.62, 3.247], "nice": false, "zero": false}, "axis": null}, "text": {"field": "t"}}},
            {"data": {"name": "A"}, "mark": {"type": "line", "color": "#000000", "strokeWidth": 5, "strokeCap": "round", "strokeJoin": "round"},
             "encoding": {"x": {"field": "m", "type": "quantitative", "scale": {"domain": [-6.5, 45.34], "nice": false, "zero": false}, "axis": null},
                          "y": {"field": "g", "type": "quantitative", "scale": {"domain": [-4.62, 3.247], "nice": false, "zero": false}, "axis": null},
                          "detail": {"field": "v", "type": "nominal"}}}
          ]
        },
        {
          "width": 599, "height": 362,
          "title": {"text": "(b)", "orient": "bottom", "offset": 4, "fontSize": 23, "font": "Lato", "fontWeight": "normal", "color": "#000000"},
          "layer": [
            {"data": {"values": [{}]}, "mark": {"type": "rule", "color": "#868686", "strokeWidth": 1.8},
             "encoding": {"x": {"datum": -0.5, "type": "quantitative", "scale": {"domain": [-6.5, 45.34], "nice": false, "zero": false}, "axis": null}, "x2": {"datum": 44.5},
                          "y": {"datum": 0, "type": "quantitative", "scale": {"domain": [-4.65, 3.246], "nice": false, "zero": false}, "axis": null}}},
            {"data": {"name": "months"}, "transform": [{"calculate": "datum.m + 0.5", "as": "b"}], "mark": {"type": "rule", "color": "#868686", "strokeWidth": 1.5, "y2Offset": 5},
             "encoding": {"x": {"field": "b", "type": "quantitative", "scale": {"domain": [-6.5, 45.34], "nice": false, "zero": false}, "axis": null},
                          "y": {"datum": 0, "type": "quantitative", "scale": {"domain": [-4.65, 3.246], "nice": false, "zero": false}, "axis": null}, "y2": {"datum": 0}}},
            {"data": {"name": "months"}, "transform": [{"calculate": "datum.m + 0.5", "as": "b"}], "mark": {"type": "rule", "color": "#868686", "strokeWidth": 1.5, "y2Offset": 38.5},
             "encoding": {"x": {"field": "b", "type": "quantitative", "scale": {"domain": [-6.5, 45.34], "nice": false, "zero": false}, "axis": null},
                          "y": {"datum": -3, "type": "quantitative", "scale": {"domain": [-4.65, 3.246], "nice": false, "zero": false}, "axis": null}, "y2": {"datum": -3}}},
            {"data": {"name": "years"}, "transform": [{"calculate": "datum.e + 0.5", "as": "b"}], "mark": {"type": "rule", "color": "#868686", "strokeWidth": 1.5, "y2Offset": 75},
             "encoding": {"x": {"field": "b", "type": "quantitative", "scale": {"domain": [-6.5, 45.34], "nice": false, "zero": false}, "axis": null},
                          "y": {"datum": -3, "type": "quantitative", "scale": {"domain": [-4.65, 3.246], "nice": false, "zero": false}, "axis": null}, "y2": {"datum": -3}}},
            {"data": {"values": [{}]}, "mark": {"type": "rule", "color": "#868686", "strokeWidth": 1.5, "y2Offset": 75},
             "encoding": {"x": {"datum": -0.5, "type": "quantitative", "scale": {"domain": [-6.5, 45.34], "nice": false, "zero": false}, "axis": null},
                          "y": {"datum": 3, "type": "quantitative", "scale": {"domain": [-4.65, 3.246], "nice": false, "zero": false}, "axis": null}, "y2": {"datum": -3}}},
            {"data": {"name": "yt"}, "transform": [{"filter": "datum.t <= 3"}], "mark": {"type": "rule", "color": "#868686", "strokeWidth": 1.5, "x2Offset": -6},
             "encoding": {"x": {"datum": -0.5, "type": "quantitative", "scale": {"domain": [-6.5, 45.34], "nice": false, "zero": false}, "axis": null}, "x2": {"datum": -0.5},
                          "y": {"field": "t", "type": "quantitative", "scale": {"domain": [-4.65, 3.246], "nice": false, "zero": false}, "axis": null}}},
            {"data": {"name": "yt"}, "transform": [{"filter": "datum.t <= 3"}], "mark": {"type": "text", "align": "right", "baseline": "middle", "fontSize": 16, "xOffset": -17},
             "encoding": {"x": {"datum": -0.5, "type": "quantitative", "scale": {"domain": [-6.5, 45.34], "nice": false, "zero": false}, "axis": null},
                          "y": {"field": "t", "type": "quantitative", "scale": {"domain": [-4.65, 3.246], "nice": false, "zero": false}, "axis": null}, "text": {"field": "lab"}}},
            {"data": {"name": "months"}, "transform": [{"filter": "datum.m % 2 == 0"}], "mark": {"type": "text", "angle": 270, "align": "right", "baseline": "middle", "fontSize": 15, "yOffset": 12},
             "encoding": {"x": {"field": "m", "type": "quantitative", "scale": {"domain": [-6.5, 45.34], "nice": false, "zero": false}, "axis": null},
                          "y": {"datum": -3, "type": "quantitative", "scale": {"domain": [-4.65, 3.246], "nice": false, "zero": false}, "axis": null}, "text": {"field": "r"}}},
            {"data": {"name": "years"}, "transform": [{"calculate": "(datum.s + datum.e) / 2", "as": "c"}], "mark": {"type": "text", "align": "center", "baseline": "middle", "fontSize": 16, "yOffset": 63},
             "encoding": {"x": {"field": "c", "type": "quantitative", "scale": {"domain": [-6.5, 45.34], "nice": false, "zero": false}, "axis": null},
                          "y": {"datum": -3, "type": "quantitative", "scale": {"domain": [-4.65, 3.246], "nice": false, "zero": false}, "axis": null}, "text": {"field": "yr"}}},
            {"data": {"values": [{"t": "Lambda=12000"}]}, "mark": {"type": "text", "align": "right", "baseline": "alphabetic", "fontSize": 23},
             "encoding": {"x": {"datum": 44.5, "type": "quantitative", "scale": {"domain": [-6.5, 45.34], "nice": false, "zero": false}, "axis": null},
                          "y": {"datum": 2.614, "type": "quantitative", "scale": {"domain": [-4.65, 3.246], "nice": false, "zero": false}, "axis": null}, "text": {"field": "t"}}},
            {"data": {"name": "B"}, "mark": {"type": "line", "color": "#00b050", "strokeWidth": 5, "strokeCap": "round", "strokeJoin": "round"},
             "encoding": {"x": {"field": "m", "type": "quantitative", "scale": {"domain": [-6.5, 45.34], "nice": false, "zero": false}, "axis": null},
                          "y": {"field": "g", "type": "quantitative", "scale": {"domain": [-4.65, 3.246], "nice": false, "zero": false}, "axis": null},
                          "detail": {"field": "v", "type": "nominal"}}}
          ]
        }
      ]
    },
    {
      "spacing": 18.5,
      "hconcat": [
        {
          "width": 599, "height": 360,
          "title": {"text": "(c)", "orient": "bottom", "offset": 4, "fontSize": 23, "font": "Lato", "fontWeight": "normal", "color": "#000000"},
          "layer": [
            {"data": {"values": [{}]}, "mark": {"type": "rule", "color": "#868686", "strokeWidth": 1.8},
             "encoding": {"x": {"datum": -0.5, "type": "quantitative", "scale": {"domain": [-6.5, 45.34], "nice": false, "zero": false}, "axis": null}, "x2": {"datum": 44.5},
                          "y": {"datum": 0, "type": "quantitative", "scale": {"domain": [-4.77, 3.73], "nice": false, "zero": false}, "axis": null}}},
            {"data": {"name": "months"}, "transform": [{"calculate": "datum.m + 0.5", "as": "b"}], "mark": {"type": "rule", "color": "#868686", "strokeWidth": 1.5, "y2Offset": 5},
             "encoding": {"x": {"field": "b", "type": "quantitative", "scale": {"domain": [-6.5, 45.34], "nice": false, "zero": false}, "axis": null},
                          "y": {"datum": 0, "type": "quantitative", "scale": {"domain": [-4.77, 3.73], "nice": false, "zero": false}, "axis": null}, "y2": {"datum": 0}}},
            {"data": {"name": "months"}, "transform": [{"calculate": "datum.m + 0.5", "as": "b"}], "mark": {"type": "rule", "color": "#868686", "strokeWidth": 1.5, "y2Offset": 38.5},
             "encoding": {"x": {"field": "b", "type": "quantitative", "scale": {"domain": [-6.5, 45.34], "nice": false, "zero": false}, "axis": null},
                          "y": {"datum": -3, "type": "quantitative", "scale": {"domain": [-4.77, 3.73], "nice": false, "zero": false}, "axis": null}, "y2": {"datum": -3}}},
            {"data": {"name": "years"}, "transform": [{"calculate": "datum.e + 0.5", "as": "b"}], "mark": {"type": "rule", "color": "#868686", "strokeWidth": 1.5, "y2Offset": 75},
             "encoding": {"x": {"field": "b", "type": "quantitative", "scale": {"domain": [-6.5, 45.34], "nice": false, "zero": false}, "axis": null},
                          "y": {"datum": -3, "type": "quantitative", "scale": {"domain": [-4.77, 3.73], "nice": false, "zero": false}, "axis": null}, "y2": {"datum": -3}}},
            {"data": {"values": [{}]}, "mark": {"type": "rule", "color": "#868686", "strokeWidth": 1.5, "y2Offset": 75},
             "encoding": {"x": {"datum": -0.5, "type": "quantitative", "scale": {"domain": [-6.5, 45.34], "nice": false, "zero": false}, "axis": null},
                          "y": {"datum": 3.5, "type": "quantitative", "scale": {"domain": [-4.77, 3.73], "nice": false, "zero": false}, "axis": null}, "y2": {"datum": -3}}},
            {"data": {"name": "yt"}, "transform": [{"filter": "datum.t <= 3"}], "mark": {"type": "rule", "color": "#868686", "strokeWidth": 1.5, "x2Offset": -6},
             "encoding": {"x": {"datum": -0.5, "type": "quantitative", "scale": {"domain": [-6.5, 45.34], "nice": false, "zero": false}, "axis": null}, "x2": {"datum": -0.5},
                          "y": {"field": "t", "type": "quantitative", "scale": {"domain": [-4.77, 3.73], "nice": false, "zero": false}, "axis": null}}},
            {"data": {"name": "yt"}, "transform": [{"filter": "datum.t <= 3"}], "mark": {"type": "text", "align": "right", "baseline": "middle", "fontSize": 16, "xOffset": -17},
             "encoding": {"x": {"datum": -0.5, "type": "quantitative", "scale": {"domain": [-6.5, 45.34], "nice": false, "zero": false}, "axis": null},
                          "y": {"field": "t", "type": "quantitative", "scale": {"domain": [-4.77, 3.73], "nice": false, "zero": false}, "axis": null}, "text": {"field": "lab"}}},
            {"data": {"name": "months"}, "transform": [{"filter": "datum.m % 2 == 0"}], "mark": {"type": "text", "angle": 270, "align": "right", "baseline": "middle", "fontSize": 15, "yOffset": 13},
             "encoding": {"x": {"field": "m", "type": "quantitative", "scale": {"domain": [-6.5, 45.34], "nice": false, "zero": false}, "axis": null},
                          "y": {"datum": -3, "type": "quantitative", "scale": {"domain": [-4.77, 3.73], "nice": false, "zero": false}, "axis": null}, "text": {"field": "r"}}},
            {"data": {"name": "years"}, "transform": [{"calculate": "(datum.s + datum.e) / 2", "as": "c"}], "mark": {"type": "text", "align": "center", "baseline": "middle", "fontSize": 16, "yOffset": 62},
             "encoding": {"x": {"field": "c", "type": "quantitative", "scale": {"domain": [-6.5, 45.34], "nice": false, "zero": false}, "axis": null},
                          "y": {"datum": -3, "type": "quantitative", "scale": {"domain": [-4.77, 3.73], "nice": false, "zero": false}, "axis": null}, "text": {"field": "yr"}}},
            {"data": {"values": [{"t": "Lambda=32000"}]}, "mark": {"type": "text", "align": "right", "baseline": "alphabetic", "fontSize": 23},
             "encoding": {"x": {"datum": 44.2, "type": "quantitative", "scale": {"domain": [-6.5, 45.34], "nice": false, "zero": false}, "axis": null},
                          "y": {"datum": 3.07, "type": "quantitative", "scale": {"domain": [-4.77, 3.73], "nice": false, "zero": false}, "axis": null}, "text": {"field": "t"}}},
            {"data": {"name": "C"}, "mark": {"type": "line", "color": "#0070c0", "strokeWidth": 5, "strokeCap": "round", "strokeJoin": "round"},
             "encoding": {"x": {"field": "m", "type": "quantitative", "scale": {"domain": [-6.5, 45.34], "nice": false, "zero": false}, "axis": null},
                          "y": {"field": "g", "type": "quantitative", "scale": {"domain": [-4.77, 3.73], "nice": false, "zero": false}, "axis": null},
                          "detail": {"field": "v", "type": "nominal"}}}
          ]
        },
        {
          "width": 599, "height": 361,
          "title": {"text": "(d)", "orient": "bottom", "offset": 4, "fontSize": 23, "font": "Lato", "fontWeight": "normal", "color": "#000000"},
          "layer": [
            {"data": {"values": [{}]}, "mark": {"type": "rule", "color": "#868686", "strokeWidth": 1.8},
             "encoding": {"x": {"datum": -0.5, "type": "quantitative", "scale": {"domain": [-6.5, 45.34], "nice": false, "zero": false}, "axis": null}, "x2": {"datum": 44.5},
                          "y": {"datum": 0, "type": "quantitative", "scale": {"domain": [-4.9, 4.28], "nice": false, "zero": false}, "axis": null}}},
            {"data": {"name": "months"}, "transform": [{"calculate": "datum.m + 0.5", "as": "b"}], "mark": {"type": "rule", "color": "#868686", "strokeWidth": 1.5, "y2Offset": 5},
             "encoding": {"x": {"field": "b", "type": "quantitative", "scale": {"domain": [-6.5, 45.34], "nice": false, "zero": false}, "axis": null},
                          "y": {"datum": 0, "type": "quantitative", "scale": {"domain": [-4.9, 4.28], "nice": false, "zero": false}, "axis": null}, "y2": {"datum": 0}}},
            {"data": {"name": "months"}, "transform": [{"calculate": "datum.m + 0.5", "as": "b"}], "mark": {"type": "rule", "color": "#868686", "strokeWidth": 1.5, "y2Offset": 38.5},
             "encoding": {"x": {"field": "b", "type": "quantitative", "scale": {"domain": [-6.5, 45.34], "nice": false, "zero": false}, "axis": null},
                          "y": {"datum": -3, "type": "quantitative", "scale": {"domain": [-4.9, 4.28], "nice": false, "zero": false}, "axis": null}, "y2": {"datum": -3}}},
            {"data": {"name": "years"}, "transform": [{"calculate": "datum.e + 0.5", "as": "b"}], "mark": {"type": "rule", "color": "#868686", "strokeWidth": 1.5, "y2Offset": 75},
             "encoding": {"x": {"field": "b", "type": "quantitative", "scale": {"domain": [-6.5, 45.34], "nice": false, "zero": false}, "axis": null},
                          "y": {"datum": -3, "type": "quantitative", "scale": {"domain": [-4.9, 4.28], "nice": false, "zero": false}, "axis": null}, "y2": {"datum": -3}}},
            {"data": {"values": [{}]}, "mark": {"type": "rule", "color": "#868686", "strokeWidth": 1.5, "y2Offset": 75},
             "encoding": {"x": {"datum": -0.5, "type": "quantitative", "scale": {"domain": [-6.5, 45.34], "nice": false, "zero": false}, "axis": null},
                          "y": {"datum": 4, "type": "quantitative", "scale": {"domain": [-4.9, 4.28], "nice": false, "zero": false}, "axis": null}, "y2": {"datum": -3}}},
            {"data": {"name": "yt"}, "mark": {"type": "rule", "color": "#868686", "strokeWidth": 1.5, "x2Offset": -6},
             "encoding": {"x": {"datum": -0.5, "type": "quantitative", "scale": {"domain": [-6.5, 45.34], "nice": false, "zero": false}, "axis": null}, "x2": {"datum": -0.5},
                          "y": {"field": "t", "type": "quantitative", "scale": {"domain": [-4.9, 4.28], "nice": false, "zero": false}, "axis": null}}},
            {"data": {"name": "yt"}, "mark": {"type": "text", "align": "right", "baseline": "middle", "fontSize": 16, "xOffset": -17},
             "encoding": {"x": {"datum": -0.5, "type": "quantitative", "scale": {"domain": [-6.5, 45.34], "nice": false, "zero": false}, "axis": null},
                          "y": {"field": "t", "type": "quantitative", "scale": {"domain": [-4.9, 4.28], "nice": false, "zero": false}, "axis": null}, "text": {"field": "lab"}}},
            {"data": {"name": "months"}, "transform": [{"filter": "datum.m % 2 == 0"}], "mark": {"type": "text", "angle": 270, "align": "right", "baseline": "middle", "fontSize": 15, "yOffset": 13},
             "encoding": {"x": {"field": "m", "type": "quantitative", "scale": {"domain": [-6.5, 45.34], "nice": false, "zero": false}, "axis": null},
                          "y": {"datum": -3, "type": "quantitative", "scale": {"domain": [-4.9, 4.28], "nice": false, "zero": false}, "axis": null}, "text": {"field": "r"}}},
            {"data": {"name": "years"}, "transform": [{"calculate": "(datum.s + datum.e) / 2", "as": "c"}], "mark": {"type": "text", "align": "center", "baseline": "middle", "fontSize": 16, "yOffset": 63},
             "encoding": {"x": {"field": "c", "type": "quantitative", "scale": {"domain": [-6.5, 45.34], "nice": false, "zero": false}, "axis": null},
                          "y": {"datum": -3, "type": "quantitative", "scale": {"domain": [-4.9, 4.28], "nice": false, "zero": false}, "axis": null}, "text": {"field": "yr"}}},
            {"data": {"values": [{"t": "Lambda=55000"}]}, "mark": {"type": "text", "align": "right", "baseline": "alphabetic", "fontSize": 23},
             "encoding": {"x": {"datum": 44.5, "type": "quantitative", "scale": {"domain": [-6.5, 45.34], "nice": false, "zero": false}, "axis": null},
                          "y": {"datum": 3.58, "type": "quantitative", "scale": {"domain": [-4.9, 4.28], "nice": false, "zero": false}, "axis": null}, "text": {"field": "t"}}},
            {"data": {"name": "D"}, "mark": {"type": "line", "color": "#ff0000", "strokeWidth": 5, "strokeCap": "round", "strokeJoin": "round"},
             "encoding": {"x": {"field": "m", "type": "quantitative", "scale": {"domain": [-6.5, 45.34], "nice": false, "zero": false}, "axis": null},
                          "y": {"field": "g", "type": "quantitative", "scale": {"domain": [-4.9, 4.28], "nice": false, "zero": false}, "axis": null},
                          "detail": {"field": "v", "type": "nominal"}}}
          ]
        }
      ]
    }
  ],
  "spacing": 36
}
